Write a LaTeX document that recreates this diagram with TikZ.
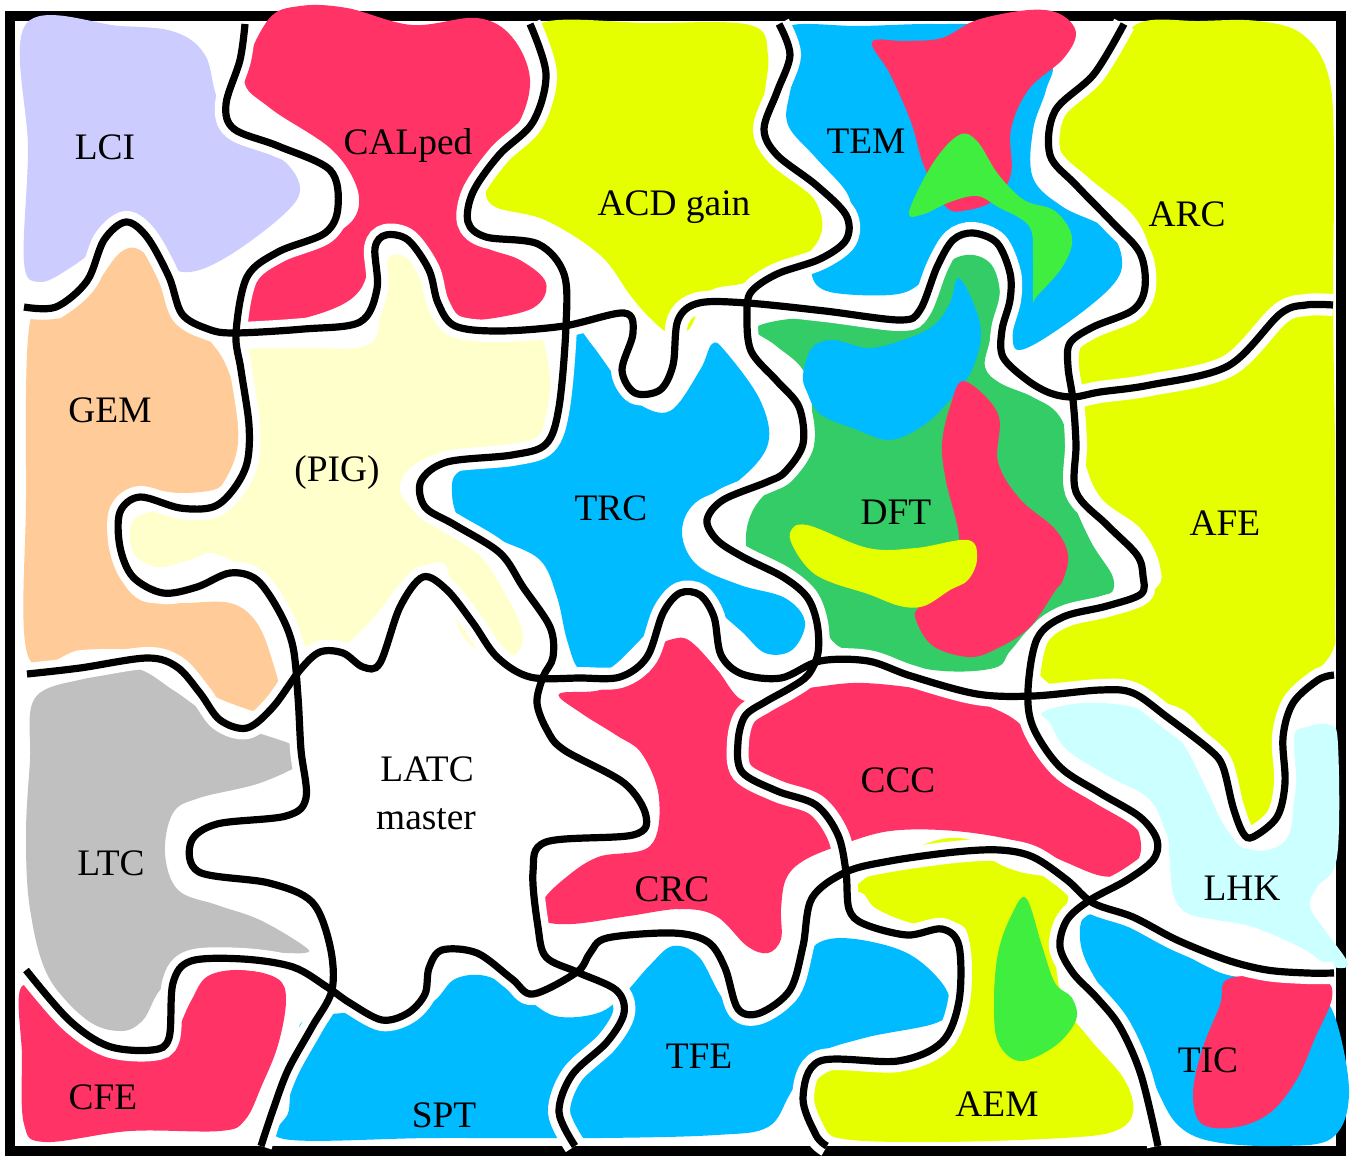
\documentclass[tikz,border=0pt]{standalone}
\usepackage{fontspec}
\setmainfont{Liberation Serif}
\definecolor{lav}{HTML}{CCCCFF}
\definecolor{hot}{HTML}{FF3366}
\definecolor{lime}{HTML}{E5FF00}
\definecolor{sky}{HTML}{00BBFF}
\definecolor{peach}{HTML}{FFCC99}
\definecolor{cream}{HTML}{FFFFCC}
\definecolor{dgreen}{HTML}{33CC66}
\definecolor{bgreen}{HTML}{3FEE3F}
\definecolor{grayc}{HTML}{C0C0C0}
\definecolor{ice}{HTML}{CCFFFF}
\tikzset{
  halo/.style={draw=white,line width=11pt},
  seam/.style={draw=black,line width=3.6pt},
  lbl/.style={font=\fontsize{18.7}{22}\selectfont,anchor=base,inner sep=0pt},
  blob/.style={smooth cycle,tension=0.6}
}
\newcommand\halopath[1]{\draw[halo] plot[smooth,tension=0.55] coordinates {#1};}
\newcommand\seampath[1]{\draw[seam] plot[smooth,tension=0.55] coordinates {#1};}
\begin{document}
\begin{tikzpicture}[x=0.5pt,y=-0.5pt]
\useasboundingbox (0,0) rectangle (1353,1156);
\fill[white] (0,0) rectangle (1353,1156);
\draw[line width=5pt] (10,16) rectangle (1341,1151);

% ---------- blobs ----------
% LCI
\fill[lav] plot[blob] coordinates {(26,24) (120,26) (175,32) (205,55) (218,100) (245,140) (285,162) (300,190) (282,216) (230,255) (190,272) (162,262) (143,232) (120,226) (100,245) (70,268) (40,282) (24,262) (28,150)};
% CALped
\fill[hot] plot[blob] coordinates {(268,20) (300,6) (347,8) (412,25) (477,18) (512,37) (530,80) (516,128) (478,170) (462,210) (480,244) (520,260) (546,283) (533,308) (480,320) (450,318) (436,300) (428,270) (415,245) (395,232) (378,235) (372,255) (360,290) (330,310) (269,326) (243,322) (247,292) (269,266) (330,237) (356,215) (356,185) (330,148) (270,108) (244,78)};
% ACD gain
\fill[lime] plot[blob] coordinates {(540,24) (650,23) (750,25) (768,55) (764,110) (777,166) (812,196) (822,230) (800,260) (748,282) (708,292) (690,328) (672,335) (650,318) (630,295) (600,255) (545,220) (492,205) (490,175) (520,122) (555,78)};
% TEM
\fill[sky] plot[blob] coordinates {(790,26) (860,26) (935,24) (1000,28) (1050,60) (1046,90) (1033,130) (1033,178) (1063,207) (1107,229) (1122,260) (1111,287) (1063,326) (1020,350) (1012,330) (1012,280) (1000,245) (975,225) (950,232) (935,260) (918,285) (890,295) (830,292) (812,276) (820,255) (848,225) (848,195) (816,158) (788,125) (790,92) (800,55)};
\fill[hot] plot[blob] coordinates {(872,42) (890,74) (911,122) (924,166) (946,207) (968,210) (994,200) (1011,174) (1011,129) (1029,89) (1063,59) (1076,33) (1060,14) (1029,10) (977,20) (942,38) (905,41)};
\fill[bgreen] plot[blob] coordinates {(909,212) (933,163) (959,135) (977,141) (998,174) (1024,200) (1055,211) (1072,237) (1063,266) (1037,296) (1033,300) (1033,259) (1029,226) (998,207) (977,196) (950,202) (924,214)};
% ARC / AFE
\fill[lime] plot[blob] coordinates {(1137,24) (1200,21) (1258,21) (1302,34) (1328,74) (1334,150) (1333,300) (1335,450) (1335,613) (1332,652) (1302,687) (1282,724) (1280,761) (1280,825) (1263,837) (1240,828) (1226,798) (1220,761) (1202,728) (1172,705) (1107,698) (1055,687) (1033,661) (1042,628) (1085,613) (1152,591) (1160,566) (1141,529) (1102,499) (1085,462) (1076,407) (1081,344) (1098,318) (1146,289) (1150,252) (1133,215) (1089,178) (1059,148) (1063,111) (1107,70)};
% GEM
\fill[peach] plot[blob] coordinates {(30,322) (61,318) (95,285) (121,252) (143,252) (173,289) (204,333) (225,363) (238,407) (237,450) (225,480) (213,490) (180,493) (147,490) (120,500) (115,530) (117,570) (140,600) (180,603) (230,603) (257,623) (273,663) (280,697) (267,713) (230,703) (197,687) (163,663) (130,650) (80,650) (28,656) (26,500)};
% PIG
\fill[cream] plot[blob] coordinates {(247,350) (300,348) (370,344) (380,300) (388,259) (408,259) (429,296) (451,326) (477,336) (533,336) (546,351) (551,407) (538,440) (505,446) (445,452) (410,468) (400,490) (415,512) (445,533) (480,556) (503,590) (522,630) (518,652) (500,657) (473,647) (457,623) (450,580) (443,563) (423,567) (397,587) (380,610) (347,643) (313,650) (293,630) (273,597) (247,570) (213,553) (190,560) (157,567) (133,553) (130,530) (137,517) (163,510) (207,513) (237,497) (253,473) (257,443) (243,370)};
% TRC
\fill[sky] plot[blob] coordinates {(577,331) (592,345) (616,378) (637,403) (670,411) (700,370) (712,344) (725,351) (760,400) (768,444) (738,481) (695,503) (682,533) (697,565) (740,585) (785,598) (805,622) (792,650) (765,653) (740,630) (705,602) (680,597) (663,613) (640,640) (607,670) (580,670) (567,640) (557,597) (540,560) (500,540) (462,522) (452,492) (462,470) (520,458) (550,445) (560,405) (562,360)};
% DFT
\fill[dgreen] plot[blob] coordinates {(755,328) (803,318) (890,322) (920,318) (938,290) (950,262) (973,255) (993,267) (1000,300) (990,340) (985,367) (1000,383) (1033,397) (1057,413) (1068,440) (1070,490) (1090,540) (1112,575) (1112,592) (1098,597) (1040,620) (1011,650) (994,668) (933,670) (846,650) (822,624) (805,600) (778,582) (752,562) (746,535) (756,505) (786,473) (807,444) (812,407) (803,370) (775,345)};
\fill[sky] plot[blob] coordinates {(803,375) (812,348) (833,340) (868,348) (903,340) (933,326) (950,303) (958,278) (972,300) (981,333) (972,370) (950,400) (924,425) (890,440) (855,429) (820,414) (807,392)};
\fill[hot] plot[blob] coordinates {(964,381) (998,414) (998,462) (1020,499) (1055,529) (1068,555) (1063,580) (1055,591) (1029,628) (994,650) (968,657) (933,646) (916,620) (920,606) (955,576) (959,536) (946,481) (942,444) (950,407)};
\fill[lime] plot[blob] coordinates {(790,533) (807,525) (868,548) (916,548) (968,540) (977,559) (968,580) (950,590) (924,606) (900,606) (868,594) (833,583) (812,572) (796,552)};
% LTC
\fill[grayc] plot[blob] coordinates {(35,698) (87,678) (134,668) (173,690) (208,714) (243,728) (295,746) (304,761) (260,783) (199,798) (173,813) (165,853) (178,890) (217,905) (260,920) (304,946) (304,953) (260,953) (191,961) (160,990) (143,1020) (121,1031) (87,1020) (48,976) (30,909) (26,835) (30,761)};
% CFE
\fill[hot] plot[blob] coordinates {(24,985) (87,1042) (152,1057) (173,1038) (191,1001) (208,976) (243,970) (278,979) (286,1001) (278,1045) (262,1085) (245,1120) (220,1131) (130,1131) (45,1142) (24,1124) (22,1057)};
% LHK
\fill[ice] plot[blob] coordinates {(1043,712) (1083,703) (1133,707) (1167,723) (1187,750) (1207,790) (1227,830) (1253,850) (1283,843) (1293,813) (1293,740) (1307,727) (1330,725) (1338,745) (1337,857) (1317,887) (1310,907) (1327,933) (1348,964) (1330,966) (1300,947) (1253,927) (1217,920) (1187,913) (1173,893) (1167,840) (1150,800) (1110,777) (1067,750) (1050,723)};
% CRC / CCC
\fill[hot] plot[blob] coordinates {(559,694) (600,690) (629,672) (650,650) (673,639) (690,641) (716,668) (742,700) (773,694) (816,687) (864,683) (933,691) (985,705) (1020,724) (1037,754) (1063,779) (1107,802) (1133,820) (1141,850) (1128,872) (1102,876) (1063,861) (1020,842) (955,831) (890,831) (838,846) (803,861) (786,879) (781,909) (781,939) (768,953) (747,946) (716,916) (680,909) (629,916) (572,924) (542,920) (542,902) (564,879) (598,857) (650,846) (659,798) (642,754) (616,735) (581,713)};
% SPT / TFE
\fill[sky] plot[blob] coordinates {(292,1060) (298,1032) (306,1020) (347,1013) (399,1020) (434,1001) (455,979) (486,976) (520,994) (555,1016) (598,1013) (624,994) (650,965) (673,946) (699,957) (725,1001) (760,1020) (794,990) (803,964) (820,942) (855,939) (907,953) (942,983) (950,1009) (933,1024) (864,1038) (812,1057) (790,1094) (768,1127) (716,1135) (600,1138) (434,1138) (284,1139) (289,1110)};
% AEM
\fill[lime] plot[blob] coordinates {(855,887) (898,857) (942,839) (977,842) (994,861) (1020,872) (1055,879) (1068,894) (1063,916) (1055,946) (1063,1001) (1089,1038) (1124,1079) (1133,1112) (1115,1131) (1063,1138) (933,1142) (838,1138) (812,1116) (812,1087) (838,1068) (907,1057) (951,1035) (968,983) (964,927) (916,924) (877,909) (864,894)};
\fill[bgreen] plot[blob] coordinates {(1026,898) (1042,946) (1055,983) (1072,998) (1076,1020) (1055,1046) (1020,1061) (998,1042) (994,1001) (998,953) (1011,916)};
% TIC
\fill[sky] plot[blob] coordinates {(1085,916) (1117,920) (1160,940) (1200,963) (1232,976) (1280,979) (1315,990) (1336,1020) (1349,1094) (1332,1138) (1280,1146) (1215,1142) (1180,1127) (1159,1094) (1137,1038) (1098,983) (1081,946)};
\fill[hot] plot[blob] coordinates {(1228,979) (1280,976) (1323,979) (1332,998) (1315,1038) (1297,1079) (1271,1112) (1237,1127) (1202,1124) (1193,1094) (1202,1050) (1220,1005)};

% ---------- seams ----------
\def\LA{(245,24) (240,60) (226,104) (234,129) (278,146) (330,170) (338,207) (325,233) (278,252) (247,277) (236,333) (241,370) (249,425) (247,463) (233,490) (213,507) (180,508) (140,497) (120,512) (120,547) (133,577) (163,593) (197,587) (230,573) (257,580) (280,613) (293,647) (298,697) (301,750) (306,798) (286,816) (217,824) (191,842) (199,872) (269,883) (312,902) (330,946) (332,990) (312,1027) (288,1070) (273,1110) (261,1146)}
\def\LB{(530,24) (546,74) (533,122) (499,155) (473,192) (468,222) (486,237) (538,244) (564,274) (566,326) (559,407) (546,444) (512,455) (447,462) (421,481) (425,507) (455,525) (500,553) (523,587) (550,627) (553,657) (543,677) (537,703) (547,730) (564,750) (624,783) (646,816) (633,835) (546,842) (533,872) (538,927) (546,957) (577,972) (616,990) (624,1013) (607,1042) (572,1075) (559,1112) (575,1146)}
\def\LC{(24,307) (56,307) (87,281) (104,240) (126,222) (147,237) (169,277) (182,314) (208,329) (234,333) (304,329) (360,322) (377,289) (375,248) (386,235) (408,240) (429,270) (438,303) (455,326) (499,331) (564,326) (624,313) (633,333) (622,370) (635,393) (660,390) (673,365) (678,320) (699,303) (747,303) (825,311) (900,320) (920,310) (937,267) (953,240) (973,233) (997,243) (1010,273) (1010,300) (1002,330) (1003,357) (1027,380) (1050,393) (1073,397) (1100,392) (1150,385) (1228,366) (1280,314) (1306,305) (1333,305)}
\def\LD{(27,674) (80,668) (147,658) (177,667) (200,693) (220,720) (247,728) (273,707) (300,670) (320,652) (343,653) (363,667) (380,663) (400,607) (423,577) (447,590) (473,623) (497,657) (530,677) (580,678) (620,677) (647,657) (663,613) (680,593) (700,595) (714,617) (721,655) (742,674) (781,678) (820,661) (868,661) (911,676) (977,694) (1033,696) (1100,690) (1133,693) (1167,717) (1210,750) (1223,767) (1233,807) (1243,833) (1253,837) (1277,817) (1285,783) (1283,737) (1293,703) (1318,680) (1334,675)}
\def\LE{(779,24) (790,55) (777,92) (764,129) (777,155) (816,185) (846,215) (846,240) (820,259) (777,274) (751,292) (747,314) (751,351) (777,381) (799,407) (803,444) (785,472) (767,482) (723,500) (707,520) (717,540) (743,557) (783,577) (807,597) (817,623) (818,653) (808,675) (790,688) (765,702) (745,716) (738,742) (742,772) (777,791) (816,805) (838,835) (846,872) (849,909) (864,924) (907,935) (942,929) (959,946) (959,1001) (942,1042) (898,1061) (820,1061) (803,1098) (816,1135) (827,1146)}
\def\LF{(1124,24) (1094,74) (1055,111) (1050,155) (1076,185) (1113,223) (1140,253) (1145,287) (1133,310) (1093,327) (1070,343) (1068,367) (1073,400) (1076,444) (1076,492) (1107,525) (1137,555) (1143,576) (1141,594) (1107,606) (1063,617) (1037,639) (1028,690) (1033,727) (1060,767) (1100,793) (1140,817) (1157,840) (1153,860) (1127,880) (1090,900) (1067,920) (1060,947) (1073,973) (1097,998) (1120,1027) (1141,1075) (1158,1146)}
\def\LG{(26,970) (69,1020) (108,1046) (152,1050) (169,1038) (173,983) (191,961) (243,959) (293,967) (327,987) (350,1003) (382,1020) (408,1013) (425,994) (429,968) (442,950) (477,953) (512,979) (533,994) (577,972) (590,953) (607,938) (673,933) (708,942) (725,968) (738,1009) (760,1013) (790,990) (803,946) (812,898) (846,872) (890,861) (955,852) (1000,850) (1033,857) (1067,880) (1093,903) (1133,917) (1177,940) (1227,960) (1267,970) (1307,973) (1334,973)}
\expandafter\halopath\expandafter{\LA}
\expandafter\halopath\expandafter{\LB}
\expandafter\halopath\expandafter{\LC}
\expandafter\halopath\expandafter{\LD}
\expandafter\halopath\expandafter{\LE}
\expandafter\halopath\expandafter{\LF}
\expandafter\halopath\expandafter{\LG}
\expandafter\seampath\expandafter{\LA}
\expandafter\seampath\expandafter{\LB}
\expandafter\seampath\expandafter{\LC}
\expandafter\seampath\expandafter{\LD}
\expandafter\seampath\expandafter{\LE}
\expandafter\seampath\expandafter{\LF}
\expandafter\seampath\expandafter{\LG}

% ---------- labels ----------
\node[lbl] (lci) at (105,159) {LCI};
\node[lbl] (calped) at (408,155) {CALped};
\node[lbl] (acd) at (674,215) {ACD gain};
\node[lbl] (tem) at (866,154) {TEM};
\node[lbl] (arc) at (1187,226) {ARC};
\node[lbl] (gem) at (110,422) {GEM};
\node[lbl] (pig) at (337,481) {(PIG)};
\node[lbl] (trc) at (611,520) {TRC};
\node[lbl] (dft) at (896,524) {DFT};
\node[lbl] (afe) at (1225,535) {AFE};
\node[lbl] (latc) at (427,781) {LATC};
\node[lbl] (master) at (426,829) {master};
\node[lbl] (ccc) at (898,792) {CCC};
\node[lbl] (ltc) at (111,875) {LTC};
\node[lbl] (crc) at (672,901) {CRC};
\node[lbl] (lhk) at (1242,900) {LHK};
\node[lbl] (tfe) at (699,1068) {TFE};
\node[lbl] (tic) at (1208,1072) {TIC};
\node[lbl] (cfe) at (103,1109) {CFE};
\node[lbl] (spt) at (444,1127) {SPT};
\node[lbl] (aem) at (997,1116) {AEM};
\end{tikzpicture}
\end{document}
